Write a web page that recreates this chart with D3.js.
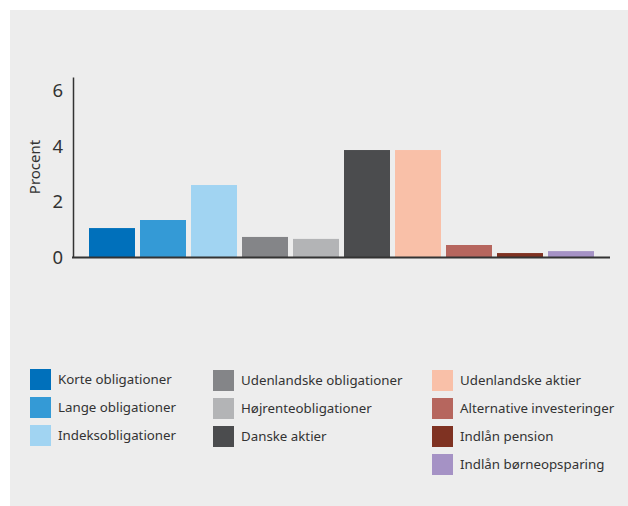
<!DOCTYPE html>
<html>
<head>
<meta charset="utf-8">
<script src="https://cdn.jsdelivr.net/npm/d3@7"></script>
<style>
  body { margin: 0; background: #fff; }
  svg { display: block; font-family: "Noto Sans", "Open Sans", sans-serif; }
</style>
</head>
<body>
<svg id="chart"></svg>
<script>
// ---------------- Data ----------------
var categories = [
  'Korte obligationer', 'Lange obligationer', 'Indeksobligationer',
  'Udenlandske obligationer', 'Højrenteobligationer', 'Danske aktier',
  'Udenlandske aktier', 'Alternative investeringer', 'Indlån pension',
  'Indlån børneopsparing'
];
var values = [1.06, 1.35, 2.61, 0.74, 0.67, 3.87, 3.87, 0.45, 0.16, 0.23];
var colors = [
  '#0070bb', '#349ad6', '#a1d4f2', '#848588', '#b3b4b6',
  '#4b4c4e', '#f9c0a8', '#b6665e', '#7f3222', '#a592c5'
];
var yTicks = [0, 2, 4, 6];
var yLabel = 'Procent';
// legend columns (indices into categories)
var legendCols = [[0, 1, 2], [3, 4, 5], [6, 7, 8, 9]];

// ---------------- Layout ----------------
var width = 628, height = 506;
var svg = d3.select('#chart').attr('width', width).attr('height', height);

svg.append('rect')
  .attr('x', 10).attr('y', 10)
  .attr('width', width - 10).attr('height', height - 10)
  .attr('fill', '#ededed');

var xScale = d3.scaleBand()
  .domain(categories)
  .range([86.5, 596.5])
  .paddingInner(0.098)
  .paddingOuter(0.049);

var yScale = d3.scaleLinear()
  .domain([0, 6.5])
  .range([257.5, 77]);

// y-axis
var yAxis = svg.append('g')
  .attr('transform', 'translate(73,0)')
  .call(d3.axisLeft(yScale).tickValues(yTicks).tickFormat(d3.format('d')).tickSize(0).tickPadding(10));
yAxis.select('.domain').attr('stroke', '#333').attr('stroke-width', 1.5);
yAxis.selectAll('text')
  .attr('font-size', 18.5)
  .attr('fill', '#333')
  .attr('font-family', '"Noto Sans", sans-serif');

svg.append('text')
  .text(yLabel)
  .attr('transform', 'rotate(-90)')
  .attr('x', -167)
  .attr('y', 35)
  .attr('dy', '0.35em')
  .attr('text-anchor', 'middle')
  .attr('font-size', 15)
  .attr('fill', '#333');

// bars
svg.selectAll('rect.bar')
  .data(values)
  .enter()
  .append('rect')
    .classed('bar', true)
    .attr('x', (d, i) => xScale(categories[i]))
    .attr('y', d => yScale(d))
    .attr('width', xScale.bandwidth())
    .attr('height', d => yScale(0) - yScale(d))
    .attr('fill', (d, i) => colors[i]);

// baseline
svg.append('line')
  .attr('x1', 72).attr('x2', 610)
  .attr('y1', yScale(0)).attr('y2', yScale(0))
  .attr('stroke', '#333')
  .attr('stroke-width', 2);

// ---------------- Legend ----------------
var colX = [30, 213, 432];
var colY = [369, 370, 370];
var rowStep = 28;

legendCols.forEach(function(col, c) {
  var g = svg.append('g');
  col.forEach(function(idx, r) {
    var y = colY[c] + r * rowStep;
    g.append('rect')
      .attr('x', colX[c]).attr('y', y)
      .attr('width', 21).attr('height', 21)
      .attr('fill', colors[idx]);
    g.append('text')
      .text(categories[idx])
      .attr('x', colX[c] + 28)
      .attr('y', y + 10.5)
      .attr('dy', '0.35em')
      .attr('font-size', 13.3)
      .attr('fill', '#333');
  });
});
</script>
</body>
</html>
